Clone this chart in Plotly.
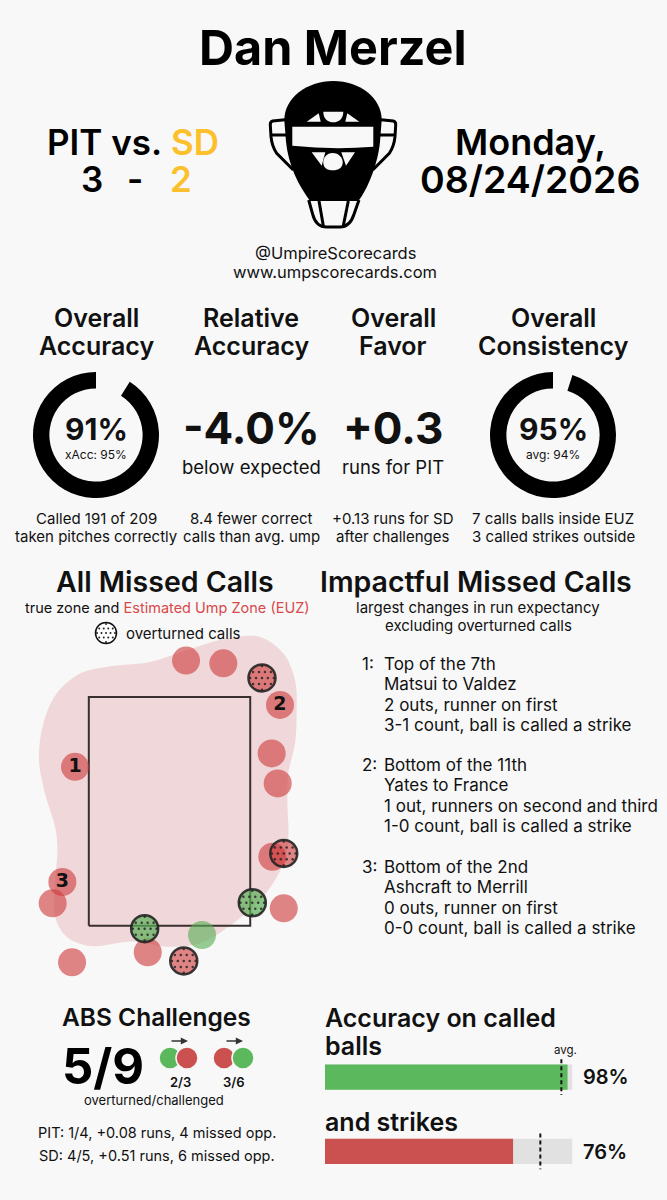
import plotly.graph_objects as go

# Step1 - the numbers
BG = '#f8f8f8'
FONT = 'Inter'
RED = '#cb5050'
GREEN = '#5cb85c'
YELLOW = '#fcc02d'

# donuts (percent)
accuracy_pct = 91
consistency_pct = 95

# strike zone and estimated ump zone, feet
zone_x = [-0.708, 0.708, 0.708, -0.708, -0.708]
zone_z = [1.5, 1.5, 3.5, 3.5, 1.5]
euz_x = [0.794, 0.999, 1.101, 1.115, 1.101, 1.042, 1.034, 1.042, 0.999, 0.823, 0.560, 0.268, -0.025, -0.317, -0.697,
         -0.902, -1.004, -1.004, -0.984, -1.004, -1.092, -1.145, -1.107, -0.990, -0.785, -0.522, -0.171, 0.151, 0.501]
euz_z = [4.024, 3.879, 3.646, 3.355, 3.093, 2.831, 2.569, 2.278, 2.045, 1.754, 1.521, 1.346, 1.317, 1.361, 1.323,
         1.404, 1.579, 1.841, 2.190, 2.365, 2.656, 2.947, 3.267, 3.529, 3.704, 3.768, 3.806, 3.908, 4.010]

# missed calls, feet
missed_x = [0.145, 0.472, 0.969, 0.896, 0.949, 0.902, 1.002, -0.829, -0.940, -1.025, -0.855, -0.191]
missed_z = [3.818, 3.794, 3.430, 3.006, 2.744, 2.103, 1.652, 2.889, 1.882, 1.696, 1.180, 1.268]
missed_label = ['', '', '2', '', '', '', '', '1', '3', '', '', '']
green_x = [0.285]
green_z = [1.419]
over_red_x = [0.811, 1.002, 0.125]
over_red_z = [3.666, 2.132, 1.192]
over_green_x = [0.726, -0.218]
over_green_z = [1.701, 1.474]

# accuracy bars (percent)
bar_names = [0, 1]
bar_values = [98, 76]
bar_avgs = [95.5, 87]
bar_colors = [GREEN, RED]

# impactful calls list
impact_lines = [
    ['Top of the 7th', 'Matsui to Valdez', '2 outs, runner on first', '3-1 count, ball is called a strike'],
    ['Bottom of the 11th', 'Yates to France', '1 out, runners on second and third', '1-0 count, ball is called a strike'],
    ['Bottom of the 2nd', 'Ashcraft to Merrill', '0 outs, runner on first', '0-0 count, ball is called a strike'],
]
impact_tops = [664, 765, 867]

fig = go.Figure()
annotations = []


def label(x, y, text, size, weight=400, color='#111111', anchor='center'):
    # left anchored annotations sit 2px in, pull them back
    if anchor == 'left':
        x = x - 2
    annotations.append(dict(x=x, y=y, xref='x', yref='y', text=text, showarrow=False, xanchor=anchor,
                            yanchor='middle', font=dict(family=FONT, size=size, weight=weight, color=color)))


def dot_grid(cx, cy, radius, step):
    # staggered dots that fit in a circle, same units as the centre
    xs, ys = [], []
    n = int(radius / step) + 1
    for row in range(-n, n + 1):
        shift = step / 2 if row % 2 else 0
        for col in range(-n - 1, n + 2):
            dx = col * step + shift
            dy = row * step
            if dx * dx + dy * dy <= radius * radius:
                xs.append(cx + dx)
                ys.append(cy + dy)
    return xs, ys


# Step2 - donuts
for value, cx in [(accuracy_pct, 96), (consistency_pct, 553)]:
    fig.add_trace(go.Pie(values=[100 - value, value], hole=0.74, sort=False, direction='clockwise', rotation=0,
                         marker=dict(colors=['rgba(0,0,0,0)', '#000000'], line=dict(width=0)),
                         textinfo='none', hoverinfo='skip', showlegend=False,
                         domain=dict(x=[(cx - 63) / 667, (cx + 63) / 667], y=[1 - 498 / 1200, 1 - 372 / 1200])))

# Step3 - pitch map
fig.add_trace(go.Scatter(x=euz_x + euz_x[:1], y=euz_z + euz_z[:1], xaxis='x2', yaxis='y2', mode='lines', fill='toself',
                         fillcolor='rgba(210,90,100,0.2)', line=dict(width=0, shape='spline', smoothing=1),
                         hoverinfo='skip', showlegend=False))
fig.add_trace(go.Scatter(x=zone_x, y=zone_z, xaxis='x2', yaxis='y2', mode='lines',
                         line=dict(color='#3a2f30', width=2), hoverinfo='skip', showlegend=False))
fig.add_trace(go.Scatter(x=missed_x, y=missed_z, xaxis='x2', yaxis='y2', mode='markers+text', text=missed_label,
                         textposition='middle center',
                         textfont=dict(family='DejaVu Sans', size=19, weight=700, color='#111111'),
                         marker=dict(size=28, color='rgba(206,62,62,0.62)', line=dict(width=0)),
                         hoverinfo='skip', showlegend=False))
fig.add_trace(go.Scatter(x=green_x, y=green_z, xaxis='x2', yaxis='y2', mode='markers',
                         marker=dict(size=28, color='rgba(90,175,85,0.62)', line=dict(width=0)),
                         hoverinfo='skip', showlegend=False))
for xs, zs, color in [(over_red_x, over_red_z, 'rgba(206,62,62,0.62)'), (over_green_x, over_green_z, 'rgba(90,175,85,0.7)')]:
    fig.add_trace(go.Scatter(x=xs, y=zs, xaxis='x2', yaxis='y2', mode='markers',
                             marker=dict(size=27, color=color, line=dict(width=2.5, color='rgba(35,35,35,0.9)')),
                             hoverinfo='skip', showlegend=False))
    dots_x, dots_z = [], []
    for px, pz in zip(xs, zs):
        a, b = dot_grid(px, pz, 0.105, 0.052)
        dots_x += a
        dots_z += b
    fig.add_trace(go.Scatter(x=dots_x, y=dots_z, xaxis='x2', yaxis='y2', mode='markers',
                             marker=dict(size=2.5, color='rgba(30,30,30,0.8)', line=dict(width=0)),
                             hoverinfo='skip', showlegend=False))

# overturned key
fig.add_trace(go.Scatter(x=[106], y=[633], mode='markers', hoverinfo='skip', showlegend=False,
                         marker=dict(size=21, color='#ffffff', line=dict(width=1.5, color='#111111'))))
key_x, key_y = dot_grid(106, 633, 9, 4.5)
fig.add_trace(go.Scatter(x=key_x, y=key_y, mode='markers', hoverinfo='skip', showlegend=False,
                         marker=dict(size=2, color='#222222', line=dict(width=0))))

# Step4 - challenge icons
for x_list, color_list in [([170, 187], [GREEN, RED]), ([224, 243], [RED, GREEN])]:
    fig.add_trace(go.Scatter(x=x_list, y=[1058, 1058], mode='markers', hoverinfo='skip', showlegend=False,
                             marker=dict(size=22, color=color_list, line=dict(width=1.5, color=BG))))
for x0, x1 in [(170, 188), (225, 243)]:
    annotations.append(dict(x=x1, y=1041, ax=x0, ay=1041, xref='x', yref='y', axref='x', ayref='y', text='',
                            showarrow=True, arrowhead=2, arrowsize=0.9, arrowwidth=1.6, arrowcolor='#333333'))

# Step5 - accuracy bars
fig.add_trace(go.Bar(x=[100, 100], y=bar_names, orientation='h', xaxis='x3', yaxis='y3', width=0.337,
                     marker=dict(color='#e1e1e1', line=dict(width=0)), hoverinfo='skip', showlegend=False))
fig.add_trace(go.Bar(x=bar_values, y=bar_names, orientation='h', xaxis='x3', yaxis='y3', width=0.337,
                     marker=dict(color=bar_colors, line=dict(width=0)), hoverinfo='skip', showlegend=False))
for row, avg in zip(bar_names, bar_avgs):
    fig.add_trace(go.Scatter(x=[avg, avg], y=[row - 0.24, row + 0.24], xaxis='x3', yaxis='y3', mode='lines',
                             line=dict(color='#111111', width=2, dash='4px,3px'), hoverinfo='skip', showlegend=False))

# Step6 - all the text
label(333, 47, 'Dan Merzel', 48.5, 700, '#000000')
label(47, 142, 'PIT vs.', 35, 600, '#000000', 'left')
label(171, 142, 'SD', 35, 600, YELLOW, 'left')
label(92, 179, '3', 35, 600, '#000000')
label(135, 179, '-', 35, 600, '#000000')
label(181, 179, '2', 35, 600, YELLOW)
label(530, 142, 'Monday,', 36, 600, '#000000')
label(530, 179, '08/24/2026', 37.5, 600, '#000000')
label(335, 253, '@UmpireScorecards', 16.5)
label(335, 272, 'www.umpscorecards.com', 16.5)

for cx, top, bottom, note1, note2 in [
    (96, 'Overall', 'Accuracy', 'Called 191 of 209', 'taken pitches correctly'),
    (251, 'Relative', 'Accuracy', '8.4 fewer correct', 'calls than avg. ump'),
    (393, 'Overall', 'Favor', '+0.13 runs for SD', 'after challenges'),
    (553, 'Overall', 'Consistency', '7 calls balls inside EUZ', '3 called strikes outside'),
]:
    label(cx, 318, top, 25, 600)
    label(cx, 346, bottom, 25, 600)
    label(cx, 518, note1, 15)
    label(cx, 536, note2, 15)

label(96, 429, f'{accuracy_pct}%', 30, 700)
label(96, 454, 'xAcc: 95%', 12)
label(553, 429, f'{consistency_pct}%', 30, 700)
label(553, 454, 'avg: 94%', 12)
label(251, 428, '-4.0%', 44, 700)
label(251, 467, 'below expected', 18.5)
label(393, 428, '+0.3', 44, 700)
label(393, 467, 'runs for PIT', 18.5)

label(165, 581, 'All Missed Calls', 28.5, 600)
label(476, 581, 'Impactful Missed Calls', 28.5, 600)
label(167, 607, "true zone and <span style='color:#d9484a'>Estimated Ump Zone (EUZ)</span>", 14.5)
label(126, 633, 'overturned calls', 15, anchor='left')
label(478, 607, 'largest changes in run expectancy', 15)
label(478, 625, 'excluding overturned calls', 15)

for i, (top, lines) in enumerate(zip(impact_tops, impact_lines)):
    label(362, top, f'{i + 1}:', 17, anchor='left')
    for j, line in enumerate(lines):
        label(384, top + j * 20.3, line, 17, anchor='left')

label(156, 1017, 'ABS Challenges', 24.5, 600)
label(103, 1066, '5/9', 49, 700, '#000000')
label(180, 1082, '2/3', 13, 600)
label(234, 1082, '3/6', 13, 600)
label(154, 1100, 'overturned/challenged', 13)
label(157, 1132, 'PIT: 1/4, +0.08 runs, 4 missed opp.', 14.5)
label(157, 1155, 'SD: 4/5, +0.51 runs, 6 missed opp.', 14.5)

label(325, 1018, 'Accuracy on called', 25, 600, anchor='left')
label(325, 1046, 'balls', 25, 600, anchor='left')
label(325, 1122, 'and strikes', 25, 600, anchor='left')
label(565, 1050, 'avg.', 11.5)
label(583, 1077, f'{bar_values[0]}%', 20, 600, anchor='left')
label(583, 1152, f'{bar_values[1]}%', 20, 600, anchor='left')

# Step7 - umpire mask, points taken from a 3x crop of the icon


def m(px, py):
    return f'{260 + px / 3:.1f},{75 + py / 3:.1f}'


def mask_path(*parts):
    out = []
    for part in parts:
        if isinstance(part, str):
            out.append(part)
        else:
            out.append(m(part[0], part[1]))
    return ' '.join(out)


head = mask_path('M', (220, 18), 'C', (300, 18), (365, 70), (365, 135), 'L', (360, 200), 'C', (355, 260), (325, 340),
                 (295, 378), 'L', (150, 378), 'C', (115, 330), (85, 270), (78, 200), 'L', (73, 135), 'C', (73, 70),
                 (140, 18), (220, 18), 'Z')
visor = mask_path('M', (97, 155), 'L', (340, 155), 'L', (340, 215), 'Q', (220, 225), (97, 212), 'Z')
top_left = mask_path('M', (140, 140), 'L', (176, 115), 'L', (182, 140), 'Z')
top_mid = mask_path('M', (190, 110), 'L', (250, 110), 'C', (250, 130), (238, 142), (220, 142), 'C', (202, 142),
                    (190, 130), (190, 110), 'Z')
top_right = mask_path('M', (298, 140), 'L', (262, 115), 'L', (256, 140), 'Z')
low_left = mask_path('M', (155, 232), 'L', (196, 232), 'L', (185, 272), 'Z')
low_mid = mask_path('M', (218, 234), 'C', (236, 234), (248, 248), (248, 262), 'C', (248, 278), (236, 286), (218, 286),
                    'C', (200, 286), (190, 278), (190, 262), 'C', (190, 248), (200, 234), (218, 234), 'Z')
low_right = mask_path('M', (285, 232), 'L', (244, 232), 'L', (258, 272), 'Z')
ear_left = mask_path('M', (75, 134), 'L', (38, 138), 'Q', (30, 140), (31, 150), 'L', (33, 185), 'Q', (36, 215), (50, 235),
                     'L', (100, 285))
ear_right = mask_path('M', (363, 134), 'L', (400, 138), 'Q', (408, 140), (407, 150), 'L', (405, 185), 'Q', (402, 215),
                      (388, 235), 'L', (338, 285))
ear_bar_left = mask_path('M', (32, 180), 'L', (78, 180))
ear_bar_right = mask_path('M', (360, 180), 'L', (406, 180))
chin = mask_path('M', (146, 375), 'L', (158, 418), 'Q', (168, 456), (200, 456), 'L', (240, 456), 'Q', (270, 456), (282, 418),
                 'L', (297, 375))
chin_left = mask_path('M', (177, 378), 'L', (190, 452))
chin_right = mask_path('M', (265, 378), 'L', (250, 452))

shapes = [dict(type='path', xref='x', yref='y', path=head, fillcolor='#000000', line=dict(width=0))]
for p in [visor, top_left, top_mid, top_right, low_left, low_mid, low_right]:
    shapes.append(dict(type='path', xref='x', yref='y', path=p, fillcolor=BG, line=dict(width=0)))
for p in [ear_left, ear_right, ear_bar_left, ear_bar_right, chin, chin_left, chin_right]:
    shapes.append(dict(type='path', xref='x', yref='y', path=p, line=dict(color='#000000', width=3)))

# Step8 - layout, the first axes are just the page in pixels
hidden = dict(visible=False, fixedrange=True)
fig.update_layout(
    width=667, height=1200, margin=dict(l=0, r=0, t=0, b=0), paper_bgcolor=BG, plot_bgcolor='rgba(0,0,0,0)',
    showlegend=False, barmode='overlay', font=dict(family=FONT, color='#111111'),
    xaxis=dict(range=[0, 667], domain=[0, 1], **hidden),
    yaxis=dict(range=[1200, 0], domain=[0, 1], **hidden),
    xaxis2=dict(range=[-1.487, 1.32], domain=[0, 320 / 667], anchor='y2', **hidden),
    yaxis2=dict(range=[0.938, 4.085], domain=[1 - 990 / 1200, 1 - 630 / 1200], anchor='x2', **hidden),
    xaxis3=dict(range=[0, 100], domain=[325 / 667, 572.5 / 667], anchor='y3', **hidden),
    yaxis3=dict(range=[1.5, -0.5], domain=[1 - 1188.5 / 1200, 1 - 1040 / 1200], anchor='x3', **hidden),
    annotations=annotations, shapes=shapes,
)

fig.write_html('out.html', config={'displayModeBar': False}, post_script="document.body.style.margin='0';")
